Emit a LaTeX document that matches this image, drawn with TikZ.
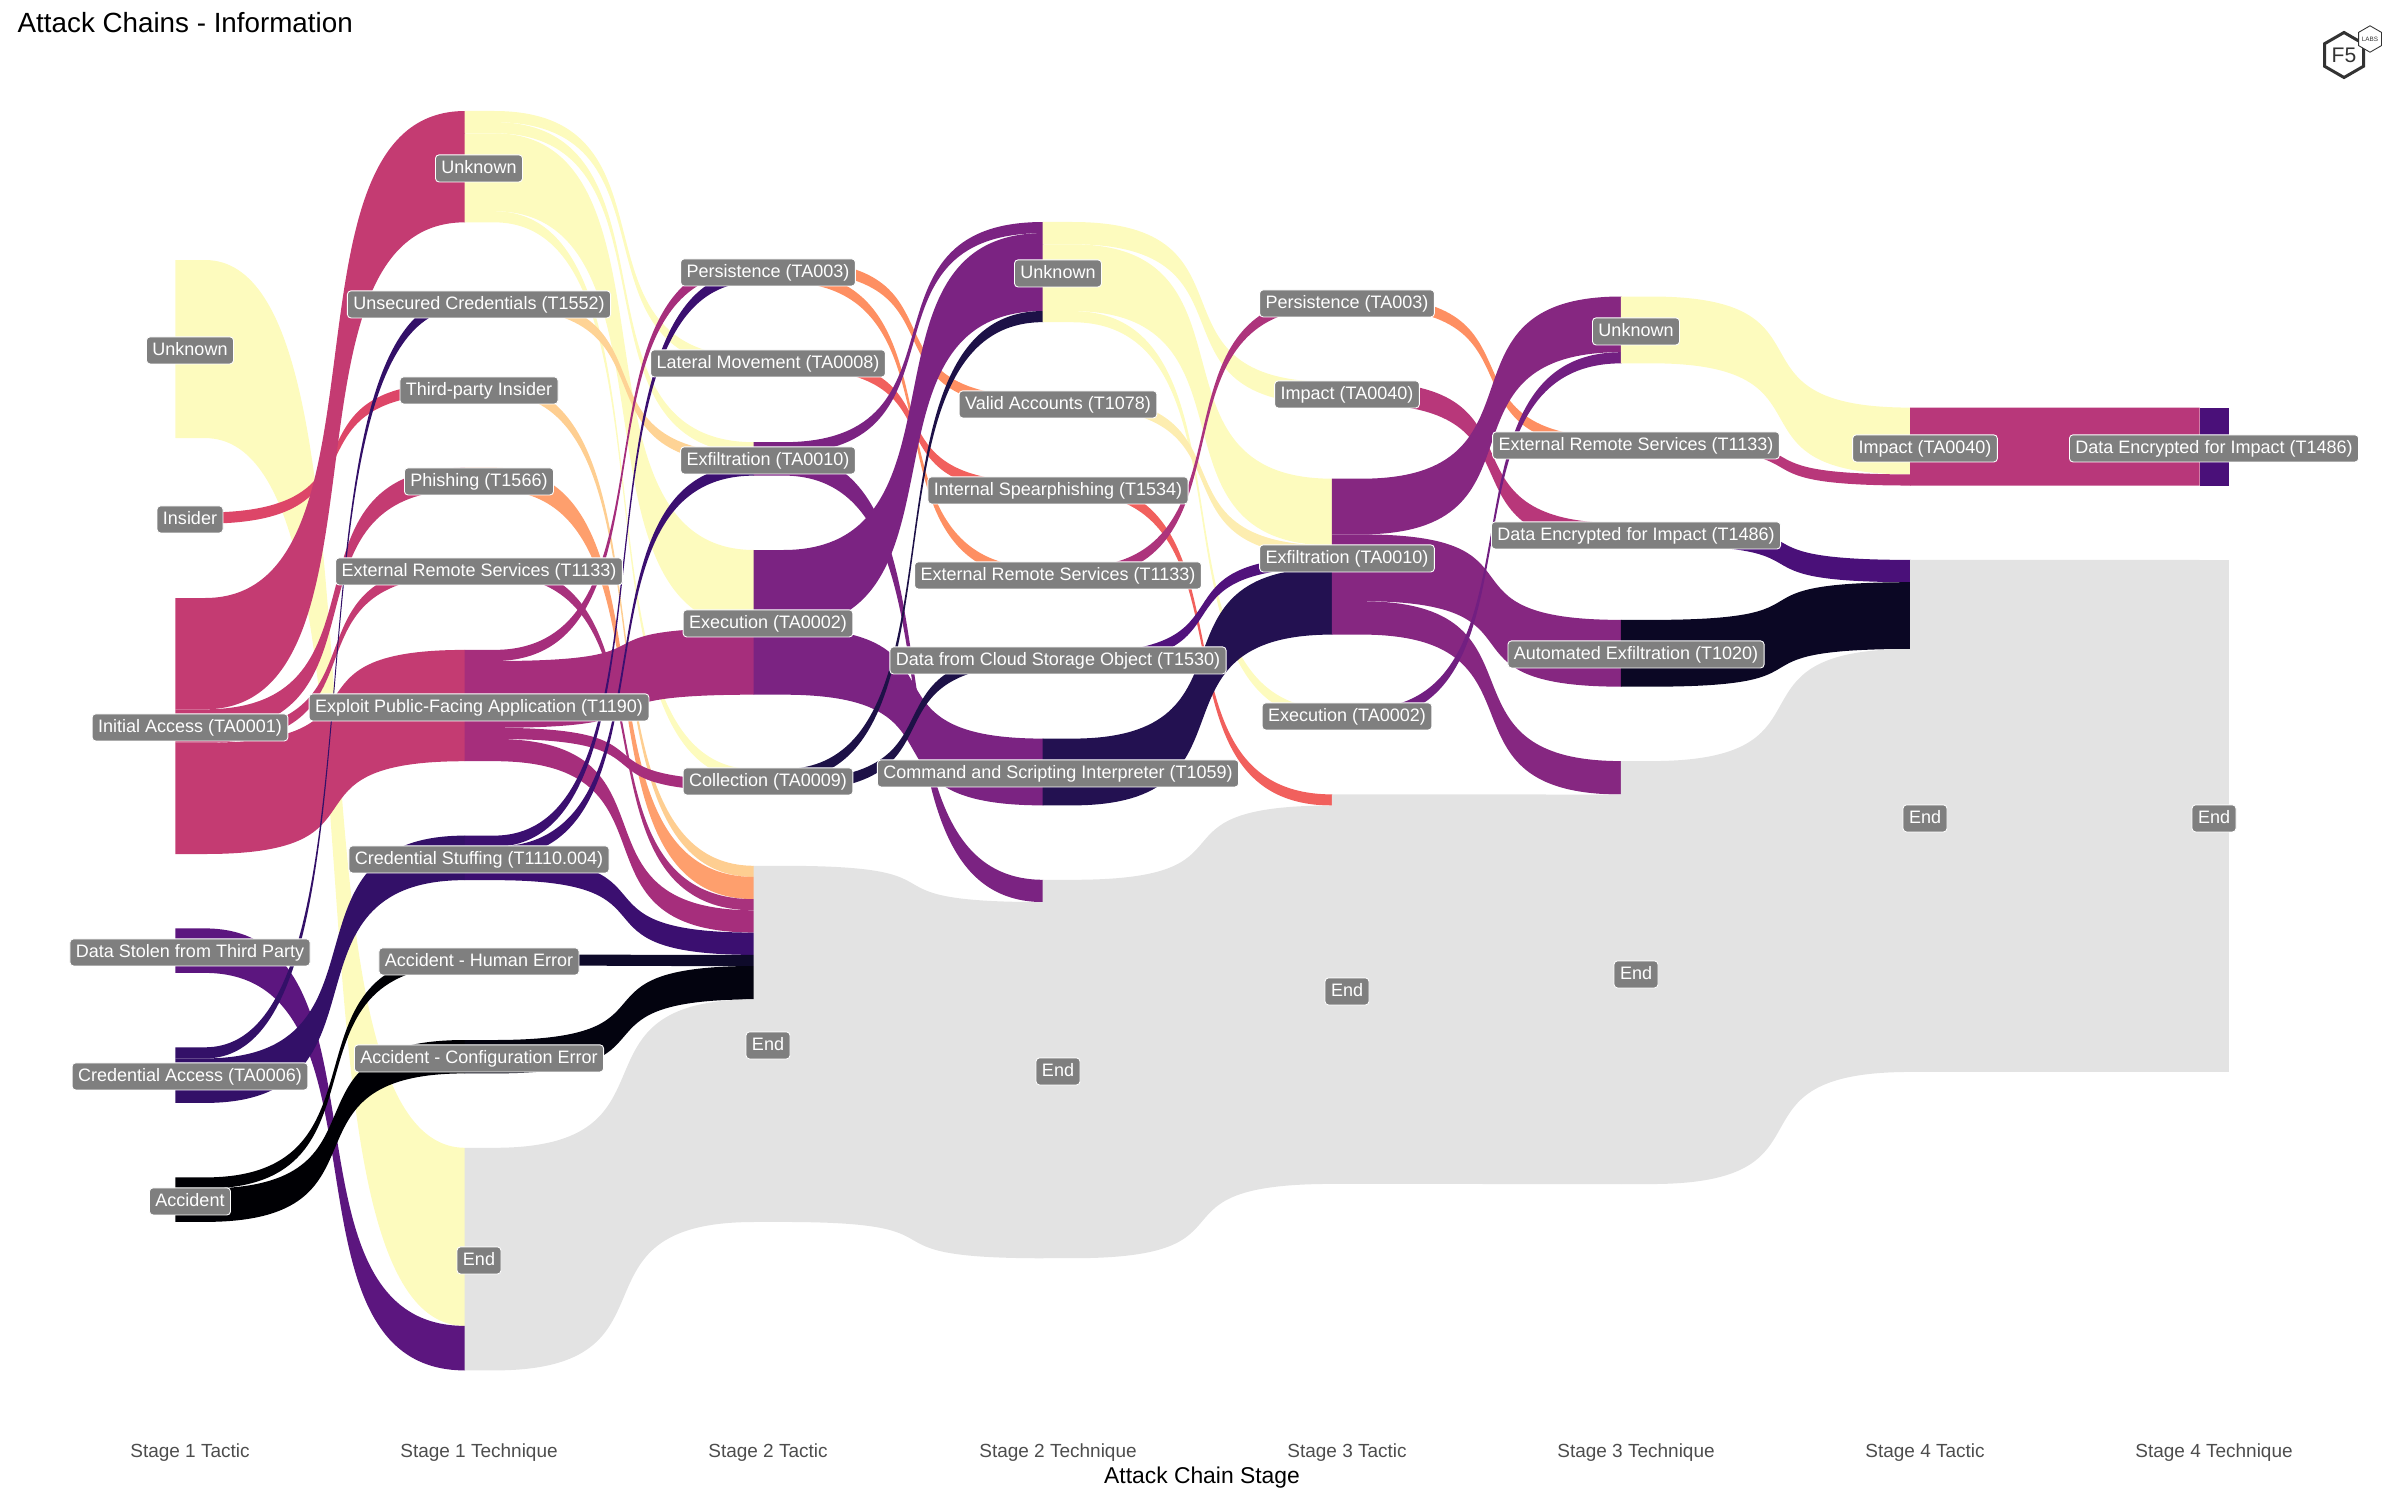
\documentclass[tikz,border=0pt]{standalone}
\usepackage{fontspec}
\setmainfont{Liberation Sans}
\usepackage{tikz}
\usetikzlibrary{shapes.geometric, positioning, calc}

\definecolor{yellowflow}{HTML}{FDFBBE}
\definecolor{endgray}{HTML}{E3E3E3}
\definecolor{insiderred}{HTML}{DD4668}
\definecolor{initialrose}{HTML}{C43B72}
\definecolor{stolenpurple}{HTML}{5C167F}
\definecolor{credindigo}{HTML}{331068}
\definecolor{accidentblack}{HTML}{000004}
\definecolor{unsecpeach}{HTML}{FED395}
\definecolor{thirdpeach}{HTML}{FECE91}
\definecolor{phishorange}{HTML}{FE9F6D}
\definecolor{extmagenta}{HTML}{A8327D}
\definecolor{exploitmagenta}{HTML}{A62E7C}
\definecolor{stuffindigo}{HTML}{3B0F70}
\definecolor{humannavy}{HTML}{0E0A2A}
\definecolor{configblack}{HTML}{03030F}
\definecolor{persistorange}{HTML}{FE8F62}
\definecolor{lateralred}{HTML}{F1605D}
\definecolor{stagepurple}{HTML}{7B2382}
\definecolor{collectnavy}{HTML}{1D1147}
\definecolor{validcream}{HTML}{FDEDB0}
\definecolor{remotemagenta}{HTML}{AD347C}
\definecolor{cloudpurple}{HTML}{51127C}
\definecolor{commandnavy}{HTML}{231151}
\definecolor{impactrose}{HTML}{B8377A}
\definecolor{exfilpurple}{HTML}{862781}
\definecolor{execpurple}{HTML}{721F81}
\definecolor{encpurple}{HTML}{4A1079}
\definecolor{autonavy}{HTML}{0B0724}
\definecolor{labelgray}{HTML}{7F7F7F}
\definecolor{ticktext}{HTML}{4D4D4D}
\definecolor{logogray}{HTML}{333333}

\tikzset{
  stratlabel/.style={fill=labelgray, draw=white, line width=0.25pt, rounded corners=1pt,
    text=white, font=\fontsize{5.12}{5.12}\selectfont, inner xsep=1.7pt, inner ysep=0pt,
    minimum height=7.7pt, text height=3.6pt, text depth=0.9pt, yshift=-0.4pt},
  ticklabel/.style={text=ticktext, font=\fontsize{5.4}{5.4}\selectfont},
}

% colour, column, y from, y to, height in units
\newcommand{\flowband}[5]{
  \pgfmathsetmacro{\xa}{176+289.1*#2-0.6}
  \pgfmathsetmacro{\xs}{205+289.1*#2}
  \pgfmathsetmacro{\xb}{465.1+289.1*#2}
  \pgfmathsetmacro{\xc}{\xs+197}
  \pgfmathsetmacro{\xd}{\xb-197}
  \pgfmathsetmacro{\ya}{#3+11.13*#5}
  \pgfmathsetmacro{\yb}{#4+11.13*#5}
  \fill[#1] (\xa,#3) -- (\xs,#3) .. controls (\xc,#3) and (\xd,#4) .. (\xb,#4)
    -- (\xb,\yb) .. controls (\xd,\yb) and (\xc,\ya) .. (\xs,\ya) -- (\xa,\ya) -- cycle;
}

\begin{document}
\begin{tikzpicture}[x=0.01cm, y=-0.01cm]
\useasboundingbox (0,0) rectangle (2400,1500);

% Stage 1 Tactic to Stage 1 Technique
\flowband{yellowflow}{0}{260}{1147.8}{16}
\flowband{insiderred}{0}{512.5}{382.2}{1}
\flowband{initialrose}{0}{598}{111}{10}
\flowband{initialrose}{0}{709.3}{467.7}{2}
\flowband{initialrose}{0}{731.6}{564.4}{1}
\flowband{initialrose}{0}{742.7}{649.9}{10}
\flowband{stolenpurple}{0}{928.4}{1325.9}{4}
\flowband{credindigo}{0}{1047.3}{296.7}{1}
\flowband{credindigo}{0}{1058.4}{835.6}{4}
\flowband{accidentblack}{0}{1177.4}{954.5}{1}
\flowband{accidentblack}{0}{1188.5}{1040}{3}

% Stage 1 Technique to Stage 2 Tactic
\flowband{yellowflow}{1}{111}{356.7}{1}
\flowband{yellowflow}{1}{122.1}{442.2}{1}
\flowband{yellowflow}{1}{133.3}{550}{7}
\flowband{yellowflow}{1}{211.2}{769.1}{1}
\flowband{unsecpeach}{1}{296.7}{453.3}{1}
\flowband{thirdpeach}{1}{382.2}{865.8}{1}
\flowband{phishorange}{1}{467.7}{876.9}{2}
\flowband{extmagenta}{1}{564.4}{899.2}{1}
\flowband{exploitmagenta}{1}{649.9}{260}{1}
\flowband{exploitmagenta}{1}{661}{627.9}{6}
\flowband{exploitmagenta}{1}{727.8}{780.2}{1}
\flowband{exploitmagenta}{1}{738.9}{910.3}{2}
\flowband{stuffindigo}{1}{835.6}{271.1}{1}
\flowband{stuffindigo}{1}{846.7}{464.5}{1}
\flowband{stuffindigo}{1}{857.9}{932.6}{2}
\flowband{humannavy}{1}{954.5}{954.9}{1}
\flowband{configblack}{1}{1040}{966}{3}
\flowband{endgray}{1}{1147.8}{999.4}{20}

% Stage 2 Tactic to Stage 2 Technique
\flowband{persistorange}{2}{260}{396.6}{1}
\flowband{persistorange}{2}{271.1}{567.6}{1}
\flowband{lateralred}{2}{356.7}{482.1}{1}
\flowband{stagepurple}{2}{442.2}{222}{1}
\flowband{stagepurple}{2}{453.3}{879.8}{2}
\flowband{stagepurple}{2}{550}{233.1}{7}
\flowband{stagepurple}{2}{627.9}{738.6}{6}
\flowband{collectnavy}{2}{769.1}{311}{1}
\flowband{collectnavy}{2}{780.2}{653.1}{1}
\flowband{endgray}{2}{865.8}{902.1}{32}

% Stage 2 Technique to Stage 3 Tactic
\flowband{yellowflow}{3}{222}{382}{2}
\flowband{yellowflow}{3}{244.3}{478.7}{6}
\flowband{yellowflow}{3}{311.1}{708.9}{1}
\flowband{validcream}{3}{396.6}{545.5}{1}
\flowband{lateralred}{3}{482.1}{794.4}{1}
\flowband{remotemagenta}{3}{567.6}{296.5}{1}
\flowband{cloudpurple}{3}{653.1}{556.6}{1}
\flowband{commandnavy}{3}{738.6}{567.8}{6}
\flowband{endgray}{3}{879.8}{805.5}{34}

% Stage 3 Tactic to Stage 3 Technique
\flowband{persistorange}{4}{296.5}{437.7}{1}
\flowband{impactrose}{4}{382}{523.2}{2}
\flowband{exfilpurple}{4}{478.7}{296.5}{5}
\flowband{exfilpurple}{4}{534.4}{619.9}{6}
\flowband{exfilpurple}{4}{601.2}{761.1}{3}
\flowband{execpurple}{4}{708.9}{352.2}{1}
\flowband{endgray}{4}{794.4}{794.5}{35}

% Stage 3 Technique to Stage 4 Tactic
\flowband{yellowflow}{5}{296.5}{407.6}{6}
\flowband{impactrose}{5}{437.7}{474.4}{1}
\flowband{encpurple}{5}{523.2}{559.9}{2}
\flowband{autonavy}{5}{619.9}{582.2}{6}
\flowband{endgray}{5}{761.1}{649}{38}

% Stage 4 Tactic to Stage 4 Technique
\flowband{impactrose}{6}{407.6}{407.6}{7}
\flowband{endgray}{6}{559.9}{559.9}{46}
\fill[encpurple] (2199.7,407.6) rectangle (2229,485.5);
\fill[endgray] (2199.1,559.9) rectangle (2229,1071.9);

% Stage 1 Tactic labels
\node[stratlabel] (tacOneUnknown) at (190,349) {Unknown};
\node[stratlabel] (tacOneInsider) at (190,518) {Insider};
\node[stratlabel] (tacOneInitial) at (190,726) {Initial Access (TA0001)};
\node[stratlabel] (tacOneStolen) at (190,951) {Data Stolen from Third Party};
\node[stratlabel] (tacOneCred) at (190,1075) {Credential Access (TA0006)};
\node[stratlabel] (tacOneAccident) at (190,1200) {Accident};

% Stage 1 Technique labels
\node[stratlabel] (techOneUnknown) at (479,167) {Unknown};
\node[stratlabel] (techOneUnsec) at (479,303) {Unsecured Credentials (T1552)};
\node[stratlabel] (techOneThird) at (479,389) {Third-party Insider};
\node[stratlabel] (techOnePhish) at (479,480) {Phishing (T1566)};
\node[stratlabel] (techOneExt) at (479,570) {External Remote Services (T1133)};
\node[stratlabel] (techOneExploit) at (479,706) {Exploit Public-Facing Application (T1190)};
\node[stratlabel] (techOneStuff) at (479,858) {Credential Stuffing (T1110.004)};
\node[stratlabel] (techOneHuman) at (479,960) {Accident - Human Error};
\node[stratlabel] (techOneConfig) at (479,1057) {Accident - Configuration Error};
\node[stratlabel] (techOneEnd) at (479,1259) {End};

% Stage 2 Tactic labels
\node[stratlabel] (tacTwoPersist) at (768,271) {Persistence (TA003)};
\node[stratlabel] (tacTwoLateral) at (768,362) {Lateral Movement (TA0008)};
\node[stratlabel] (tacTwoExfil) at (768,459) {Exfiltration (TA0010)};
\node[stratlabel] (tacTwoExec) at (768,622) {Execution (TA0002)};
\node[stratlabel] (tacTwoCollect) at (768,780) {Collection (TA0009)};
\node[stratlabel] (tacTwoEnd) at (768,1044) {End};

% Stage 2 Technique labels
\node[stratlabel] (techTwoUnknown) at (1058,272) {Unknown};
\node[stratlabel] (techTwoValid) at (1058,403) {Valid Accounts (T1078)};
\node[stratlabel] (techTwoSpear) at (1058,489) {Internal Spearphishing (T1534)};
\node[stratlabel] (techTwoExt) at (1058,574) {External Remote Services (T1133)};
\node[stratlabel] (techTwoCloud) at (1058,659) {Data from Cloud Storage Object (T1530)};
\node[stratlabel] (techTwoCommand) at (1058,772) {Command and Scripting Interpreter (T1059)};
\node[stratlabel] (techTwoEnd) at (1058,1070) {End};

% Stage 3 Tactic labels
\node[stratlabel] (tacThreePersist) at (1347,302) {Persistence (TA003)};
\node[stratlabel] (tacThreeImpact) at (1347,393) {Impact (TA0040)};
\node[stratlabel] (tacThreeExfil) at (1347,557) {Exfiltration (TA0010)};
\node[stratlabel] (tacThreeExec) at (1347,715) {Execution (TA0002)};
\node[stratlabel] (tacThreeEnd) at (1347,990) {End};

% Stage 3 Technique labels
\node[stratlabel] (techThreeUnknown) at (1636,330) {Unknown};
\node[stratlabel] (techThreeExt) at (1636,444) {External Remote Services (T1133)};
\node[stratlabel] (techThreeEnc) at (1636,534) {Data Encrypted for Impact (T1486)};
\node[stratlabel] (techThreeAuto) at (1636,653) {Automated Exfiltration (T1020)};
\node[stratlabel] (techThreeEnd) at (1636,973) {End};

% Stage 4 labels
\node[stratlabel] (tacFourImpact) at (1925,447) {Impact (TA0040)};
\node[stratlabel] (tacFourEnd) at (1925,817) {End};
\node[stratlabel] (techFourEnc) at (2214,447) {Data Encrypted for Impact (T1486)};
\node[stratlabel] (techFourEnd) at (2214,817) {End};

% Axis
\node[ticklabel] (tickOne) at (190,1453) {Stage 1 Tactic};
\node[ticklabel] (tickTwo) at (479,1453) {Stage 1 Technique};
\node[ticklabel] (tickThree) at (768,1453) {Stage 2 Tactic};
\node[ticklabel] (tickFour) at (1058,1453) {Stage 2 Technique};
\node[ticklabel] (tickFive) at (1347,1453) {Stage 3 Tactic};
\node[ticklabel] (tickSix) at (1636,1453) {Stage 3 Technique};
\node[ticklabel] (tickSeven) at (1925,1453) {Stage 4 Tactic};
\node[ticklabel] (tickEight) at (2214,1453) {Stage 4 Technique};
\node[font=\fontsize{6.5}{6.5}\selectfont] (axisTitle) at (1202,1478) {Attack Chain Stage};
\node[anchor=west, inner sep=0pt, font=\fontsize{7.9}{7.9}\selectfont] (chartTitle) at (17,23) {Attack Chains - Information};

% Logo
\node[regular polygon, regular polygon sides=6, shape border rotate=30, draw=logogray, line width=0.85pt,
  minimum size=0.45cm, inner sep=0pt, text=logogray, font=\fontsize{6}{6}\selectfont] (logoBig) at (2344,55) {F5};
\node[regular polygon, regular polygon sides=6, shape border rotate=30, draw=logogray, fill=white, line width=0.25pt,
  minimum size=0.26cm, inner sep=0pt, text=logogray, font=\fontsize{1.8}{1.8}\selectfont] (logoSmall) at (2370,39) {LABS};
\end{tikzpicture}
\end{document}
